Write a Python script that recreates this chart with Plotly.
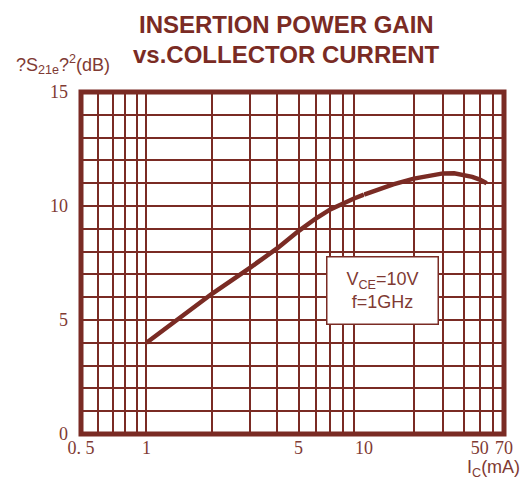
import plotly.graph_objects as go

# ---- data ----
ic_ma = [1, 1.5, 2, 3, 4, 5, 6, 7, 8, 9, 10, 12, 15, 20, 25, 30, 35, 40, 45, 50, 55]
gain_db = [4.0, 5.25, 6.15, 7.3, 8.15, 8.9, 9.45, 9.85, 10.12, 10.33, 10.5, 10.72,
           10.95, 11.2, 11.35, 11.43, 11.44, 11.38, 11.28, 11.16, 11.0]

x_grid_low = [0.5, 0.6, 0.7, 0.8, 0.9, 1, 2, 3, 4, 5, 6, 7, 8, 9, 10]
x_text_low = ["0. 5", "", "", "", "", "1", "", "", "", "5", "", "", "", "", "10"]
x_grid_high = [10, 20, 30, 40, 50, 60, 70]
x_text_high = ["", "", "", "", "50", "", "70"]
y_grid = list(range(0, 16))
y_text = [str(v) if v % 5 == 0 else "" for v in y_grid]

COL = "#7a2b24"
TXT = "#803a33"

PAGE_W, PAGE_H = 529, 481
OFF = 8  # default page body margin
W, H = PAGE_W - OFF, PAGE_H - OFF
L, R, T, B = 81, 504, 92, 434.5  # plot box in page pixels
split = (364 - L) / (R - L)

def px_x(p):
    return (p - L) / (R - L)

def px_y(p):
    return (B - p) / (B - T)

lo = [(x, y) for x, y in zip(ic_ma, gain_db) if x <= 10]
hi = [(x, y) for x, y in zip(ic_ma, gain_db) if x >= 10]

fig = go.Figure()
fig.add_trace(go.Scatter(x=[p[0] for p in lo], y=[p[1] for p in lo], mode="lines",
                         line=dict(color=COL, width=4.5),
                         xaxis="x", yaxis="y", showlegend=False))
fig.add_trace(go.Scatter(x=[p[0] for p in hi], y=[p[1] for p in hi], mode="lines",
                         line=dict(color=COL, width=4.5),
                         xaxis="x2", yaxis="y", showlegend=False))

tick_font = dict(family="Liberation Serif, serif", size=18, color=TXT)

fig.update_layout(
    width=W, height=H,
    margin=dict(l=L - OFF, r=PAGE_W - R, t=T - OFF, b=PAGE_H - B),
    paper_bgcolor="white", plot_bgcolor="white",
    xaxis=dict(type="log", domain=[0, split], range=[-0.30103, 1.0001],
               tickvals=x_grid_low, ticktext=x_text_low, showgrid=True,
               gridcolor=COL, gridwidth=1.5, zeroline=False, showline=False,
               ticks="", tickfont=tick_font, ticklabelstandoff=1, anchor="y"),
    xaxis2=dict(type="log", domain=[split, 1], range=[0.9999, 1.845098],
                tickvals=x_grid_high, ticktext=x_text_high, showgrid=True,
                gridcolor=COL, gridwidth=1.5, zeroline=False, showline=False,
                ticks="", tickfont=tick_font, ticklabelstandoff=1, anchor="y"),
    yaxis=dict(range=[0, 15], tickvals=y_grid, ticktext=y_text, showgrid=True,
               gridcolor=COL, gridwidth=1.5, zeroline=False, showline=False,
               ticks="", tickfont=tick_font, ticklabelstandoff=12, anchor="x"),
    shapes=[dict(type="rect", xref="paper", yref="paper", x0=0, x1=1, y0=0, y1=1,
                 line=dict(color=COL, width=5), layer="above")],
    annotations=[
        dict(text="<b>INSERTION POWER GAIN</b>", xref="paper", yref="paper",
             x=px_x(286), y=px_y(24), showarrow=False, xanchor="center", yanchor="middle",
             font=dict(family="Liberation Sans, Arial, sans-serif", size=24, color=COL)),
        dict(text="<b>vs.COLLECTOR CURRENT</b>", xref="paper", yref="paper",
             x=px_x(286), y=px_y(54), showarrow=False, xanchor="center", yanchor="middle",
             font=dict(family="Liberation Sans, Arial, sans-serif", size=24, color=COL)),
        dict(text="?S<sub>21e</sub>?<sup>2</sup>(dB)", xref="paper", yref="paper",
             x=px_x(14), y=px_y(64), showarrow=False, xanchor="left", yanchor="middle",
             font=dict(family="Liberation Sans, Arial, sans-serif", size=18, color=TXT)),
        dict(text="I<sub>C</sub>(mA)", xref="paper", yref="paper",
             x=px_x(522), y=px_y(469), showarrow=False, xanchor="right", yanchor="middle",
             font=dict(family="Liberation Sans, Arial, sans-serif", size=18, color=TXT)),
        dict(text="V<sub>CE</sub>=10V<br>f=1GHz", xref="paper", yref="paper",
             x=px_x(382), y=px_y(291), showarrow=False, xanchor="center", yanchor="middle",
             width=110, height=66, bgcolor="white", bordercolor=COL, borderwidth=1.5,
             borderpad=0, align="center",
             font=dict(family="Liberation Sans, Arial, sans-serif", size=18, color=TXT)),
    ],
)

fig.write_html("out.html")
